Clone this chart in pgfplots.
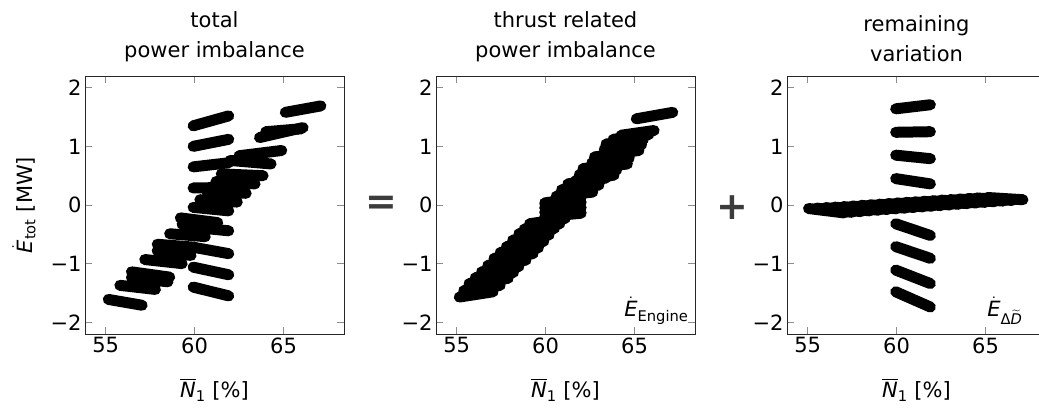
\documentclass[border=0pt]{standalone}
\usepackage{fontspec}
\setmainfont{DejaVu Sans}
\usepackage{amsmath}
\usepackage{pgfplots}
\pgfplotsset{compat=1.18}
\definecolor{tickgray}{RGB}{140,140,140}
\definecolor{opgray}{RGB}{60,60,60}
\newcommand{\seg}[4]{\addplot[seg] coordinates {(#1,#2) (#3,#4)};}
\pgfplotsset{
  panel/.style={
    width=259pt,height=258pt,scale only axis,anchor=south west,
    xmin=53.84,xmax=68.4,ymin=-2.2,ymax=2.2,
    xtick={55,60,65},xticklabels={55,60,65},
    ytick={-2,-1,0,1,2},yticklabels={−2,−1,0,1,2},
    tick align=inside, major tick length=7pt,
    tick style={tickgray,line width=0.8pt},
    axis line style={line width=0.9pt,black!85},
    tick label style={font=\fontsize{21}{24}\selectfont},
    label style={font=\fontsize{21}{24}\selectfont},
    xlabel shift=18pt, ylabel shift=8pt,
    title style={font=\fontsize{21}{30}\selectfont,align=center,yshift=5pt},
    xlabel={$\overline{\textit{N}}_{\text{1}}$ [\%]},
  },
  seg/.style={black,line width=11pt,line cap=round},
}
\begin{document}
\begin{tikzpicture}
% ---------- panel 1: total ----------
\begin{axis}[panel,at={(85pt,80pt)},
  title={total\\power imbalance},
  ylabel={$\dot{\textit{E}}_{\text{tot}}$ [MW]}]
\seg{55.15}{-1.61}{57.05}{-1.71}
\seg{55.8}{-1.37}{57.8}{-1.44}
\seg{56.45}{-1.14}{58.6}{-1.23}
\seg{56.45}{-1.24}{58.5}{-1.31}
\seg{57.2}{-0.93}{59.3}{-1.0}
\seg{57.9}{-0.67}{60.0}{-0.72}
\seg{57.9}{-0.78}{59.8}{-0.86}
\seg{58.6}{-0.49}{60.6}{-0.54}
\seg{59.2}{-0.22}{61.3}{-0.30}
\seg{59.3}{-0.33}{61.1}{-0.40}
\seg{60.3}{0.09}{62.4}{0.05}
\seg{60.7}{0.22}{62.9}{0.20}
\seg{61.2}{0.40}{63.4}{0.36}
\seg{61.5}{0.53}{63.85}{0.50}
\seg{62.0}{0.76}{64.3}{0.70}
\seg{62.5}{0.84}{64.9}{0.93}
\seg{63.65}{1.15}{66.1}{1.32}
\seg{64.0}{1.25}{66.0}{1.30}
\seg{65.1}{1.58}{67.1}{1.69}
\seg{59.92}{1.35}{61.92}{1.52}
\seg{59.92}{1.0}{61.92}{1.12}
\seg{59.92}{0.65}{61.92}{0.72}
\seg{59.92}{0.29}{61.92}{0.30}
\seg{59.92}{-0.04}{61.92}{-0.10}
\seg{59.92}{-0.38}{61.92}{-0.44}
\seg{59.92}{-0.72}{61.92}{-0.83}
\seg{59.92}{-1.06}{61.92}{-1.19}
\seg{59.92}{-1.40}{61.92}{-1.55}
\end{axis}
% ---------- panel 2: engine ----------
\begin{axis}[panel,at={(436pt,80pt)},
  title={thrust related\\power imbalance}]
\seg{55.15}{-1.57}{57.05}{-1.48}
\seg{55.4}{-1.46}{57.45}{-1.37}
\seg{55.7}{-1.34}{57.9}{-1.25}
\seg{56.05}{-1.24}{58.2}{-1.15}
\seg{56.4}{-1.14}{58.5}{-1.05}
\seg{56.75}{-1.03}{58.9}{-0.94}
\seg{57.1}{-0.91}{59.3}{-0.83}
\seg{57.45}{-0.81}{59.6}{-0.73}
\seg{57.8}{-0.71}{59.9}{-0.62}
\seg{58.15}{-0.60}{60.2}{-0.51}
\seg{58.5}{-0.49}{60.5}{-0.40}
\seg{58.8}{-0.41}{60.8}{-0.32}
\seg{59.1}{-0.32}{61.1}{-0.23}
\seg{59.95}{-0.20}{62.0}{-0.14}
\seg{59.95}{-0.12}{62.0}{-0.05}
\seg{59.95}{-0.04}{62.0}{0.04}
\seg{59.95}{0.035}{62.0}{0.13}
\seg{60.6}{0.15}{62.65}{0.22}
\seg{60.9}{0.26}{63.0}{0.34}
\seg{61.25}{0.36}{63.4}{0.46}
\seg{61.7}{0.42}{63.85}{0.51}
\seg{61.9}{0.52}{64.0}{0.60}
\seg{62.1}{0.62}{64.2}{0.70}
\seg{62.5}{0.62}{64.6}{0.70}
\seg{62.6}{0.72}{64.7}{0.80}
\seg{62.75}{0.82}{64.85}{0.90}
\seg{63.2}{0.85}{65.25}{0.93}
\seg{63.3}{0.95}{65.4}{1.03}
\seg{63.4}{1.04}{65.5}{1.12}
\seg{63.8}{1.12}{65.8}{1.20}
\seg{64.25}{1.19}{66.1}{1.27}
\seg{65.1}{1.47}{67.15}{1.58}
\node[anchor=base east,xshift=-3pt,yshift=17pt,font=\fontsize{21}{24}\selectfont] at (rel axis cs:1,0) {$\dot{\textit{E}}_{\text{Engine}}$};
\end{axis}
% ---------- panel 3: remaining ----------
\begin{axis}[panel,at={(787pt,80pt)},
  title={remaining\\variation}]
\seg{55.05}{-0.06}{57.05}{-0.135}
\seg{55.5}{-0.053}{57.5}{-0.125}
\seg{56.0}{-0.044}{58.0}{-0.113}
\seg{56.5}{-0.036}{58.5}{-0.10}
\seg{57.0}{-0.027}{59.0}{-0.089}
\seg{57.5}{-0.017}{59.5}{-0.077}
\seg{58.0}{-0.006}{60.0}{-0.065}
\seg{58.5}{0.004}{60.5}{-0.054}
\seg{59.0}{0.014}{61.0}{-0.043}
\seg{59.5}{0.025}{61.5}{-0.032}
\seg{60.0}{0.035}{62.0}{-0.021}
\seg{60.5}{0.045}{62.5}{-0.01}
\seg{61.0}{0.054}{63.0}{0.001}
\seg{61.5}{0.064}{63.5}{0.012}
\seg{62.0}{0.073}{64.0}{0.023}
\seg{62.5}{0.083}{64.5}{0.034}
\seg{63.0}{0.092}{65.0}{0.045}
\seg{63.5}{0.102}{65.5}{0.056}
\seg{64.0}{0.111}{66.0}{0.067}
\seg{64.5}{0.12}{66.5}{0.078}
\seg{65.1}{0.128}{67.1}{0.09}
\seg{59.95}{1.64}{61.9}{1.71}
\seg{59.95}{1.24}{61.9}{1.25}
\seg{59.95}{0.85}{61.9}{0.79}
\seg{59.95}{0.45}{61.9}{0.36}
\seg{59.95}{-0.32}{61.9}{-0.52}
\seg{59.95}{-0.71}{61.9}{-0.91}
\seg{59.95}{-1.11}{61.9}{-1.34}
\seg{59.95}{-1.48}{61.9}{-1.74}
\node[anchor=base east,xshift=-20pt,yshift=17pt,font=\fontsize{21}{24}\selectfont] at (rel axis cs:1,0) {$\dot{\textit{E}}_{\text{Δ}\widetilde{\textit{D}}}$};
\end{axis}
\node[font=\fontsize{38}{40}\selectfont\bfseries,text=opgray] at (381.5pt,209pt) {=};
\node[font=\fontsize{38}{40}\selectfont\bfseries,text=opgray] at (732.5pt,206.5pt) {+};
\pgfresetboundingbox
\useasboundingbox (0,0) rectangle (1039pt,414pt);
\end{tikzpicture}
\end{document}
